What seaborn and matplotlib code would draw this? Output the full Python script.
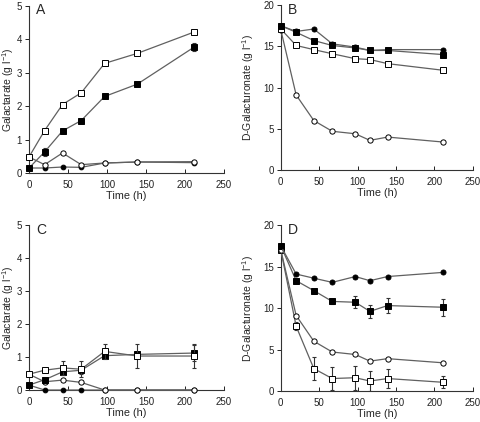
import matplotlib
matplotlib.use("Agg")
import matplotlib.pyplot as plt
import seaborn as sns
import pandas as pd
import numpy as np

sns.set_style("ticks")
plt.rcParams['font.family'] = ['Liberation Sans', 'DejaVu Sans']
plt.rcParams['mathtext.fontset'] = 'custom'
plt.rcParams['mathtext.rm'] = 'Liberation Sans'
plt.rcParams['mathtext.it'] = 'Liberation Sans'

# ---------------- data ----------------
tA = [0, 20, 43, 67, 97, 139, 212]
A_open_sq = [0.48, 1.27, 2.05, 2.40, 3.28, 3.58, 4.22]
A_fill_sq = [0.15, 0.63, 1.26, 1.57, 2.29, 2.66, 3.77]
A_fill_sq_err = [0, 0.12, 0.04, 0.04, 0.04, 0.05, 0.13]
A_open_ci = [0.48, 0.25, 0.60, 0.25, 0.30, 0.33, 0.34]
A_fill_ci = [0.15, 0.15, 0.18, 0.17, 0.30, 0.33, 0.31]

tB = [0, 20, 43, 67, 97, 116, 139, 211]
B_fill_ci = [17.5, 16.8, 17.1, 15.3, 14.9, 14.5, 14.6, 14.6]
B_fill_sq = [17.5, 16.7, 15.7, 15.1, 14.8, 14.5, 14.5, 14.0]
B_open_sq = [17.1, 15.1, 14.6, 14.1, 13.5, 13.4, 12.9, 12.1]
B_open_ci = [17.0, 9.1, 6.0, 4.7, 4.4, 3.6, 4.0, 3.4]

tC = [0, 20, 43, 67, 97, 139, 212]
C_open_sq = [0.48, 0.60, 0.67, 0.63, 1.17, 1.03, 1.03]
C_open_sq_err = [0, 0.04, 0.20, 0.25, 0.22, 0.35, 0.35]
C_fill_sq = [0.15, 0.31, 0.55, 0.60, 1.04, 1.08, 1.12]
C_fill_sq_err = [0, 0.03, 0.10, 0.10, 0.08, 0.05, 0.25]
C_open_ci = [0.48, 0.25, 0.30, 0.23, 0.0, 0.0, 0.0]
C_fill_ci = [0.15, 0.0, 0.0, 0.0, 0.0, 0.0, 0.0]

tD = [0, 20, 43, 67, 97, 116, 139, 211]
D_fill_ci = [17.5, 14.1, 13.6, 13.1, 13.8, 13.3, 13.8, 14.3]
D_fill_sq = [17.5, 13.3, 12.1, 10.8, 10.7, 9.6, 10.3, 10.1]
D_fill_sq_err = [0, 0.2, 0.2, 0.35, 0.7, 0.8, 0.9, 1.0]
D_open_ci = [17.0, 9.1, 6.0, 4.7, 4.4, 3.6, 3.9, 3.4]
D_open_sq = [17.0, 7.8, 2.7, 1.5, 1.6, 1.2, 1.5, 1.05]
D_open_sq_err = [0, 0.5, 1.4, 1.4, 1.45, 1.15, 1.1, 0.7]

LINE = '#606060'


def series(ax, t, y, marker, filled, ms, err=None, z=3):
    df = pd.DataFrame({'t': t, 'y': y})
    if err is not None:
        ax.errorbar(t, y, yerr=err, fmt='none', ecolor='#333333',
                    elinewidth=0.8, capsize=1.6, capthick=0.8, zorder=z - 0.5)
    sns.lineplot(data=df, x='t', y='y', ax=ax, color=LINE, lw=0.9,
                 marker=marker, markersize=ms,
                 markerfacecolor='black' if filled else 'white',
                 markeredgecolor='black', markeredgewidth=0.7,
                 zorder=z, clip_on=False)


def style(ax, ymax, ystep, ylabel, letter, lx):
    ax.set_xlim(0, 250)
    ax.set_ylim(0, ymax)
    ax.set_xticks(np.arange(0, 251, 50))
    ax.set_yticks(np.arange(0, ymax + 0.01, ystep))
    ax.set_xlabel('Time (h)', fontsize=7.8, labelpad=1)
    ax.set_ylabel(ylabel, fontsize=7.5)
    ax.yaxis.set_label_coords(lx, 0.5)
    ax.tick_params(axis='x', direction='in', length=3, width=0.7,
                   labelsize=7, pad=5, colors='#222222')
    ax.tick_params(axis='y', direction='out', length=3, width=0.7,
                   labelsize=7, pad=2, colors='#222222')
    for s in ['top', 'right']:
        ax.spines[s].set_visible(False)
    for s in ['left', 'bottom']:
        ax.spines[s].set_linewidth(0.8)
        ax.spines[s].set_color('#333333')
    ax.text(0.036, 1.015, letter, transform=ax.transAxes, fontsize=10,
            va='top', ha='left')


fig = plt.figure(figsize=(4.8, 4.22), dpi=100)
axA = fig.add_axes([0.0604, 0.590, 0.406, 0.396])
axB = fig.add_axes([0.585, 0.597, 0.400, 0.391])
axC = fig.add_axes([0.0604, 0.0758, 0.406, 0.391])
axD = fig.add_axes([0.585, 0.0735, 0.400, 0.393])

# A
series(axA, tA, A_fill_ci, 'o', True, 3.4, z=3)
series(axA, tA, A_open_ci, 'o', False, 3.8, z=4)
series(axA, tA, A_fill_sq, 's', True, 4.5, err=A_fill_sq_err, z=5)
series(axA, tA, A_open_sq, 's', False, 4.5, z=6)
style(axA, 5, 1, 'Galactarate (g l$^{-1}$)', 'A', -0.068)

# B
series(axB, tB, B_open_ci, 'o', False, 3.8, z=3)
series(axB, tB, B_open_sq, 's', False, 4.5, z=4)
series(axB, tB, B_fill_ci, 'o', True, 3.6, z=5)
series(axB, tB, B_fill_sq, 's', True, 4.5, z=6)
style(axB, 20, 5, 'D-Galacturonate (g l$^{-1}$)', 'B', -0.13)

# C
series(axC, tC, C_fill_ci, 'o', True, 3.4, z=3)
series(axC, tC, C_open_ci, 'o', False, 3.8, z=4)
series(axC, tC, C_fill_sq, 's', True, 4.5, err=C_fill_sq_err, z=5)
series(axC, tC, C_open_sq, 's', False, 4.5, err=C_open_sq_err, z=6)
style(axC, 5, 1, 'Galactarate (g l$^{-1}$)', 'C', -0.068)

# D
series(axD, tD, D_open_sq, 's', False, 4.5, err=D_open_sq_err, z=3)
series(axD, tD, D_open_ci, 'o', False, 3.8, z=4)
series(axD, tD, D_fill_sq, 's', True, 4.5, err=D_fill_sq_err, z=5)
series(axD, tD, D_fill_ci, 'o', True, 3.6, z=6)
style(axD, 20, 5, 'D-Galacturonate (g l$^{-1}$)', 'D', -0.13)

fig.savefig('out.png', dpi=100)
